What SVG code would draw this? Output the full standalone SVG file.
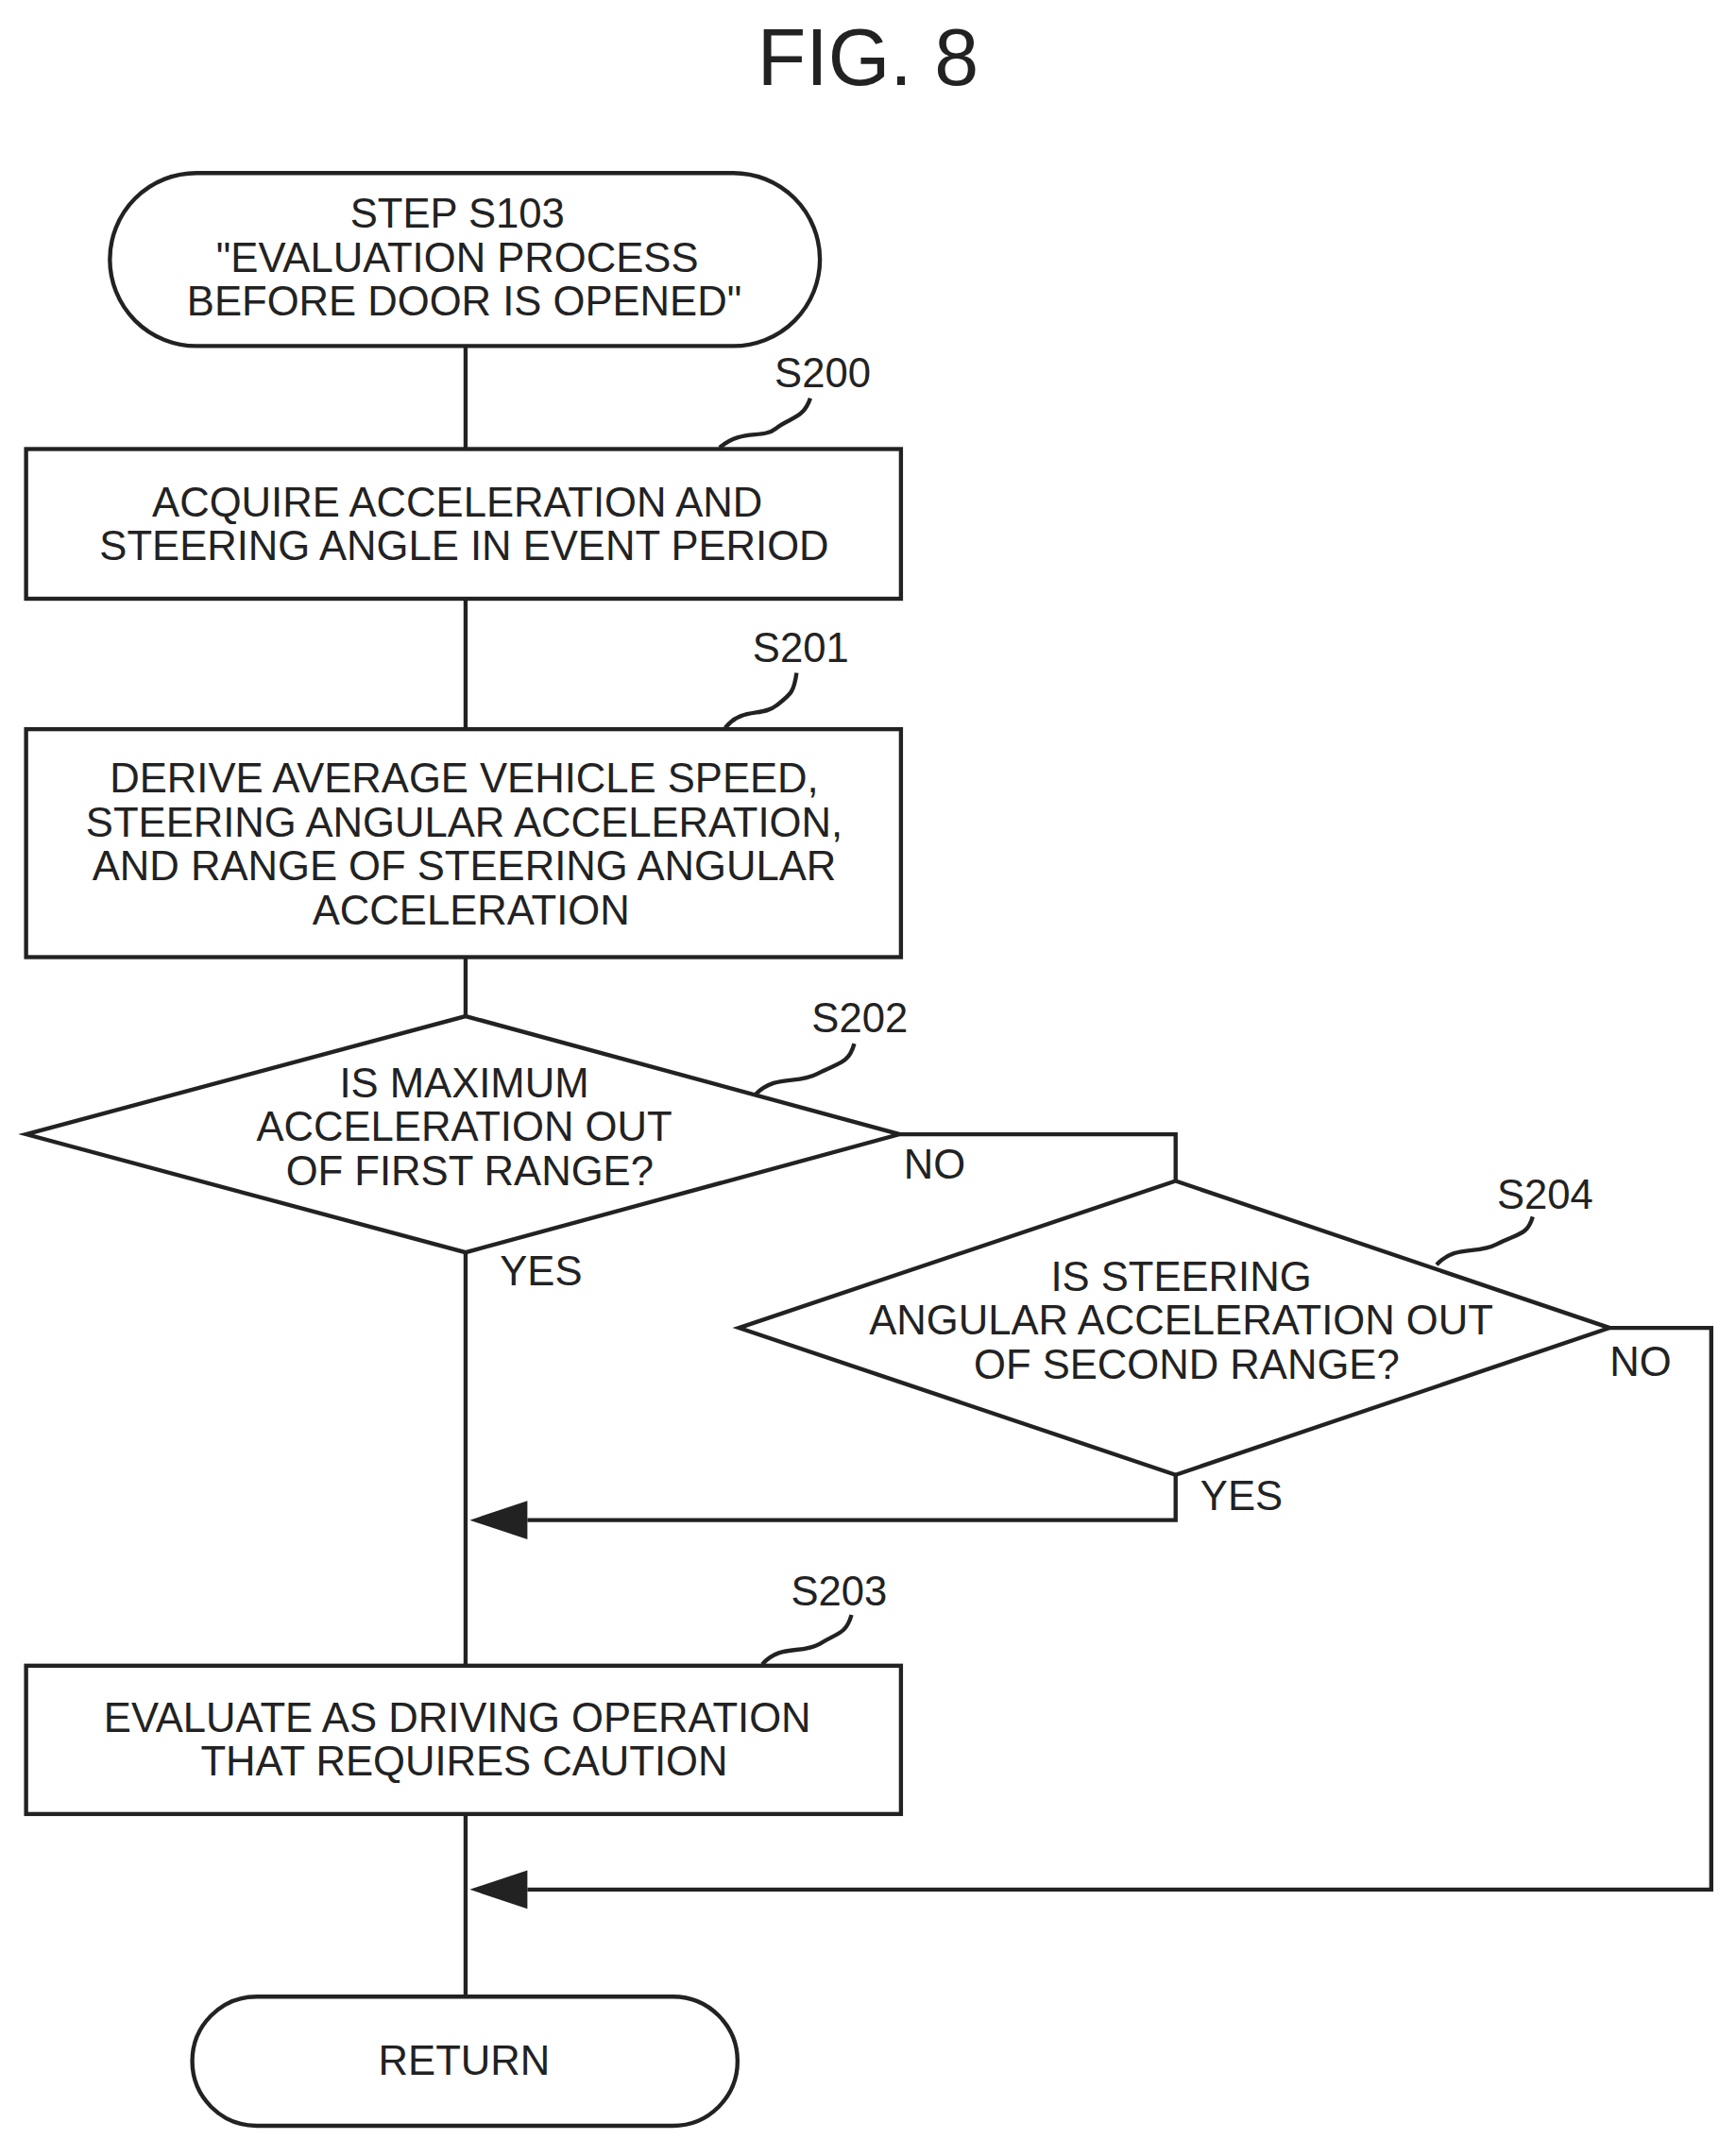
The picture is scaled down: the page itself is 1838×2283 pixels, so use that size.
<svg xmlns="http://www.w3.org/2000/svg" width="1838" height="2283" viewBox="0 0 1838 2283">
<defs>
<style>
.s{fill:none;stroke:#222;stroke-width:3}
.t{font-family:"Liberation Sans",Arial,sans-serif;font-size:30px;fill:#222;text-anchor:middle}
.l{font-family:"Liberation Sans",Arial,sans-serif;font-size:30px;fill:#222}
</style>
<marker id="ah" markerWidth="14" markerHeight="10" refX="0" refY="5" orient="auto" markerUnits="userSpaceOnUse" viewBox="0 0 14 10">
<path d="M14,0 L0,5 L14,10 Z" fill="#222"/>
</marker>
</defs>
<rect width="1838" height="2283" fill="#fff"/>
<g transform="scale(1.4541)">
<text x="632" y="62" class="t" style="font-size:58px">FIG. 8</text>
<g id="connectors">
<path class="s" d="M339,252 V327 M339,436 V531 M339,697 V740 M339,912 V1213 M339,1321 V1454"/>
<path class="s" d="M655,826 H856 V860"/>
<path class="s" d="M856,1074 V1107 H384"/>
<path d="M342,1107 L384,1093 L384,1121 Z" fill="#222"/>
<path class="s" d="M1172,967 H1246 V1376 H384"/>
<path d="M342,1376 L384,1362 L384,1390 Z" fill="#222"/>
<text x="658" y="858" class="l">NO</text>
<text x="364" y="936" class="l">YES</text>
<text x="1172" y="1002" class="l">NO</text>
<text x="874" y="1100" class="l">YES</text>
</g>
<g id="start">
<rect x="80" y="126" width="517" height="126" rx="63" class="s"/>
<text x="333" y="166" class="t">STEP S103</text>
<text x="333" y="198" class="t">"EVALUATION PROCESS</text>
<text x="338" y="230" class="t">BEFORE DOOR IS OPENED"</text>
</g>
<g id="S200">
<rect x="19" y="327" width="637" height="109" class="s"/>
<text x="333" y="376" class="t">ACQUIRE ACCELERATION AND</text>
<text x="338" y="408" class="t">STEERING ANGLE IN EVENT PERIOD</text>
<path class="s" d="M524,326 C540,312 555,320 565,312 C575,304 585,305 590,290"/>
<text x="599" y="282" class="t">S200</text>
</g>
<g id="S201">
<rect x="19" y="531" width="637" height="166" class="s"/>
<text x="338" y="577" class="t">DERIVE AVERAGE VEHICLE SPEED,</text>
<text x="338" y="609" class="t">STEERING ANGULAR ACCELERATION,</text>
<text x="338" y="641" class="t">AND RANGE OF STEERING ANGULAR</text>
<text x="343" y="673" class="t">ACCELERATION</text>
<path class="s" d="M528,530 C540,515 555,522 565,514 C575,506 578,505 580,490"/>
<text x="583" y="482" class="t">S201</text>
</g>
<g id="S202">
<polygon points="19,826 339,740 655,826 339,912" class="s"/>
<text x="338" y="799" class="t">IS MAXIMUM</text>
<text x="338" y="831" class="t">ACCELERATION OUT</text>
<text x="342" y="863" class="t">OF FIRST RANGE?</text>
<path class="s" d="M550,797 C565,782 580,790 595,782 C610,774 618,775 622,760"/>
<text x="626" y="752" class="t">S202</text>
</g>
<g id="S204">
<polygon points="538,967 856,860 1172,967 856,1074" class="s"/>
<text x="860" y="940" class="t">IS STEERING</text>
<text x="860" y="972" class="t">ANGULAR ACCELERATION OUT</text>
<text x="864" y="1004" class="t">OF SECOND RANGE?</text>
<path class="s" d="M1046,921 C1060,906 1075,914 1090,906 C1105,898 1112,900 1116,886"/>
<text x="1125" y="880" class="t">S204</text>
</g>
<g id="S203">
<rect x="19" y="1213" width="637" height="108" class="s"/>
<text x="333" y="1261" class="t">EVALUATE AS DRIVING OPERATION</text>
<text x="338" y="1293" class="t">THAT REQUIRES CAUTION</text>
<path class="s" d="M555,1212 C568,1197 583,1205 597,1197 C610,1189 616,1190 620,1176"/>
<text x="611" y="1169" class="t">S203</text>
</g>
<g id="return">
<rect x="140" y="1454" width="397" height="94" rx="47" class="s"/>
<text x="338" y="1511" class="t">RETURN</text>
</g>
</g>
</svg>
